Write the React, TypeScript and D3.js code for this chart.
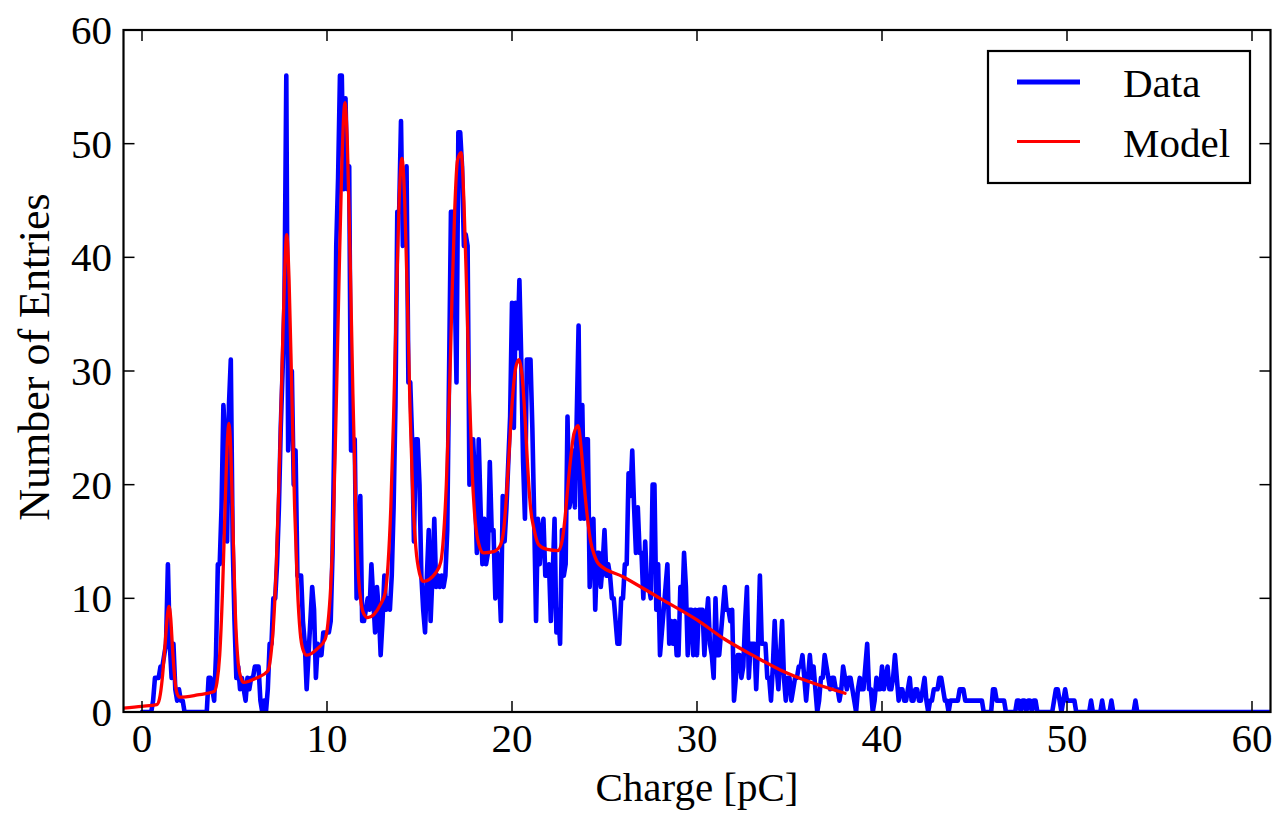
import React from 'react';
import * as d3 from 'd3';

// Histogram counts, one bin every 0.1 pC starting at 0 pC (rows of 1 pC)
const binStart = 0;
const binWidth = 0.1;
const counts: number[] = [
  0, 0, 0, 0, 0, 0, 1, 3, 3, 3,
  4, 4, 5, 6, 13, 6, 3, 6, 2, 1,
  2, 1, 1, 0, 0, 0, 0, 0, 0, 0,
  0, 0, 0, 0, 0, 0, 3, 3, 2, 1,
  5, 13, 13, 18, 27, 24, 15, 27, 31, 15,
  8, 3, 4, 2, 3, 2, 1, 3, 2, 3,
  3, 4, 4, 4, 1, 0, 1, 0, 2, 6,
  6, 10, 10, 13, 18, 25, 30, 36, 56, 23,
  30, 30, 20, 23, 12, 12, 12, 8, 6, 2,
  5, 8, 11, 9, 3, 6, 5, 5, 7, 7,
  7, 7, 8, 14, 25, 41, 47, 56, 56, 46,
  54, 46, 48, 23, 23, 24, 10, 12, 19, 8,
  8, 9, 10, 9, 13, 10, 7, 11, 9, 5,
  8, 12, 9, 10, 9, 12, 18, 27, 44, 44,
  52, 41, 44, 48, 29, 29, 24, 15, 24, 24,
  20, 12, 9, 7, 12, 16, 8, 12, 17, 11,
  12, 11, 12, 11, 12, 16, 30, 44, 44, 38,
  29, 51, 51, 48, 41, 42, 41, 20, 24, 24,
  20, 14, 24, 18, 13, 17, 13, 14, 22, 16,
  16, 10, 14, 12, 8, 19, 15, 18, 22, 26,
  36, 25, 36, 32, 38, 31, 22, 17, 31, 31,
  31, 25, 17, 8, 17, 13, 16, 17, 12, 12,
  13, 8, 12, 17, 7, 9, 6, 16, 12, 13,
  26, 18, 19, 23, 18, 26, 34, 17, 27, 17,
  24, 24, 11, 15, 17, 9, 14, 14, 11, 13,
  16, 12, 13, 12, 10, 10, 8, 6, 6, 10,
  10, 13, 13, 21, 19, 23, 18, 14, 18, 14,
  14, 10, 15, 11, 11, 10, 20, 20, 9, 13,
  5, 7, 9, 11, 13, 6, 8, 6, 8, 5,
  5, 11, 9, 14, 11, 5, 9, 9, 5, 9,
  5, 9, 9, 9, 5, 8, 10, 6, 5, 3,
  10, 5, 5, 7, 9, 11, 9, 9, 8, 9,
  1, 3, 5, 5, 3, 4, 8, 11, 3, 6,
  6, 6, 2, 6, 12, 6, 6, 6, 3, 3,
  1, 4, 8, 4, 2, 5, 8, 3, 1, 3,
  3, 1, 2, 3, 3, 4, 4, 5, 3, 1,
  3, 5, 3, 4, 2, 0, 1, 3, 3, 5,
  4, 3, 2, 3, 3, 2, 2, 1, 2, 4,
  3, 2, 3, 3, 2, 1, 0, 2, 3, 2,
  2, 4, 6, 2, 2, 0, 1, 3, 2, 2,
  4, 2, 3, 4, 2, 2, 3, 5, 3, 1,
  2, 2, 1, 1, 2, 3, 1, 1, 2, 2,
  1, 1, 2, 3, 1, 0, 1, 1, 2, 2,
  2, 3, 3, 2, 1, 1, 0, 1, 1, 1,
  1, 1, 2, 2, 2, 1, 1, 1, 1, 1,
  1, 1, 1, 1, 1, 0, 0, 0, 0, 0,
  2, 2, 1, 1, 1, 1, 1, 0, 0, 0,
  0, 0, 0, 1, 1, 0, 1, 1, 0, 1,
  1, 0, 1, 1, 0, 0, 0, 0, 0, 0,
  0, 0, 0, 1, 2, 2, 1, 0, 1, 2,
  1, 1, 1, 1, 1, 0, 0, 0, 0, 0,
  0, 0, 0, 1, 0, 0, 0, 0, 0, 1,
  0, 0, 0, 0, 1, 0, 0, 0, 0, 0,
  0, 0, 0, 0, 0, 0, 0, 1, 0, 0,
  0, 0, 0, 0, 0, 0, 0, 0, 0, 0,
  0, 0, 0, 0, 0, 0, 0, 0, 0, 0,
  0, 0, 0, 0, 0, 0, 0, 0, 0, 0,
  0, 0, 0, 0, 0, 0, 0, 0, 0, 0,
  0, 0, 0, 0, 0, 0, 0, 0, 0, 0,
  0, 0, 0, 0, 0, 0, 0, 0, 0, 0,
  0, 0, 0, 0, 0, 0, 0, 0, 0, 0,
  0,
];

// Fitted model curve (charge in pC, expected entries)
const modelCharge: number[] = [
  -1.0, 0.0, 0.8, 0.95, 1.1, 1.25, 1.38, 1.46, 1.55, 1.65, 1.78, 1.9, 2.05, 3.0, 3.9,
  4.05, 4.2, 4.35, 4.5, 4.62, 4.7, 4.8, 4.92, 5.05, 5.2, 5.35, 5.5, 6.2, 6.8,
  6.95, 7.1, 7.25, 7.4, 7.55, 7.7, 7.82, 7.95, 8.1, 8.25, 8.4, 8.55, 8.7, 8.9, 9.5, 9.9,
  10.05, 10.2, 10.35, 10.5, 10.65, 10.8, 10.97, 11.1, 11.25, 11.4, 11.55, 11.7, 11.85, 12.0, 12.2, 12.9,
  13.15, 13.3, 13.45, 13.6, 13.75, 13.9, 14.05, 14.2, 14.35, 14.5, 14.65, 14.8, 15.0, 15.2, 15.9,
  16.15, 16.3, 16.45, 16.6, 16.75, 16.9, 17.05, 17.25, 17.4, 17.55, 17.7, 17.85, 18.0, 18.2, 18.45, 19.0,
  19.35, 19.55, 19.7, 19.85, 20.0, 20.2, 20.38, 20.55, 20.7, 20.85, 21.0, 21.2, 21.45, 21.9, 22.5,
  22.7, 22.85, 23.0, 23.15, 23.35, 23.57, 23.75, 23.9, 24.05, 24.25, 24.45, 24.7,
  26.0, 28.0, 30.0, 31.5, 33.0, 34.5, 36.0, 38.0,
];
const modelCounts: number[] = [
  0.35, 0.5, 0.65, 1.2, 3.0, 6.0, 8.6, 9.3, 8.3, 5.6, 2.8, 1.6, 1.3, 1.5, 1.8,
  2.6, 5.0, 10.5, 18.5, 24, 25.4, 23, 16, 8.5, 4.3, 3.0, 2.6, 3.0, 3.6,
  4.8, 7.5, 12.5, 20, 29, 38, 42, 38, 28, 18, 11, 7, 5.5, 5.0, 5.6, 6.4,
  7.8, 11, 17, 27, 38, 48, 53.6, 50, 40, 28, 18, 12, 9.5, 8.6, 8.3, 9.5,
  10.5, 13, 18, 26, 36, 45, 48.7, 45, 36, 26, 18.5, 14.5, 12.2, 11.5, 12.3,
  13.2, 15.5, 20, 27, 36, 44, 48.5, 49.2, 45, 37, 28, 21, 17, 14.8, 14.0, 14.1,
  14.6, 16, 19, 23, 27, 30.3, 31, 29.5, 26, 21.5, 18, 16, 14.7, 14.3, 14.2,
  15, 16.8, 19.5, 22, 24.5, 25.2, 23, 20, 17.5, 15, 13.8, 13.0,
  11.9, 10.0, 8.1, 6.4, 5.0, 3.7, 2.7, 1.65,
];

const xTicks = [0, 10, 20, 30, 40, 50, 60];
const yTicks = [0, 10, 20, 30, 40, 50, 60];
const seriesNames = ['Data', 'Model'];
const xLabel = 'Charge [pC]';
const yLabel = 'Number of Entries';

export default function App() {
  const W = 1276;
  const H = 813;
  const left = 123.5, right = 1270.5, top = 30, bottom = 712;
  const font = '"Liberation Serif", "Times New Roman", serif';
  const fs = 41;
  const tick = 11;

  const x = d3.scaleLinear().domain([-1, 61]).range([left, right]);
  const y = d3.scaleLinear().domain([0, 60]).range([bottom, top]);

  const dataPts: [number, number][] = counts.map((c, i) => [binStart + i * binWidth, c]);
  const modelPts: [number, number][] = modelCharge.map((c, i) => [c, modelCounts[i]]);

  const dataPath = d3.line<[number, number]>().x(d => x(d[0])).y(d => y(d[1]))(dataPts) || '';
  const modelPath = d3.line<[number, number]>().x(d => x(d[0])).y(d => y(d[1])).curve(d3.curveMonotoneX)(modelPts) || '';

  const colors = ['#0000ff', '#ff0000'];
  const legendWidths = [5, 3.2];

  return (
    <svg width={W} height={H} style={{ position: 'absolute', left: 0, top: 0, background: '#fff' }}
      fontFamily={font}>
      <rect x={0} y={0} width={W} height={H} fill="#fff" />
      <defs>
        <clipPath id="plotclip">
          <rect x={left} y={top} width={right - left} height={bottom - top} />
        </clipPath>
      </defs>
      <g clipPath="url(#plotclip)">
        <path d={dataPath} fill="none" stroke={colors[0]} strokeWidth={4.6} strokeLinejoin="round" strokeLinecap="round" />
        <path d={modelPath} fill="none" stroke={colors[1]} strokeWidth={3.3} strokeLinejoin="round" strokeLinecap="round" />
      </g>
      {xTicks.map(t => (
        <g key={'x' + t}>
          <line x1={x(t)} x2={x(t)} y1={bottom} y2={bottom - tick} stroke="#000" strokeWidth={1.5} />
          <line x1={x(t)} x2={x(t)} y1={top} y2={top + tick} stroke="#000" strokeWidth={1.5} />
          <text x={x(t)} y={752} textAnchor="middle" fontSize={fs} fill="#000">{t}</text>
        </g>
      ))}
      {yTicks.map(t => (
        <g key={'y' + t}>
          <line x1={left} x2={left + tick} y1={y(t)} y2={y(t)} stroke="#000" strokeWidth={1.5} />
          <line x1={right} x2={right - tick} y1={y(t)} y2={y(t)} stroke="#000" strokeWidth={1.5} />
          <text x={112} y={y(t) + 14} textAnchor="end" fontSize={fs} fill="#000">{t}</text>
        </g>
      ))}
      <rect x={left} y={top} width={right - left} height={bottom - top} fill="none" stroke="#000" strokeWidth={2.2} />
      <text x={(left + right) / 2} y={801} textAnchor="middle" fontSize={fs} fill="#000">{xLabel}</text>
      <text transform={`translate(49, 357) rotate(-90)`} textAnchor="middle" fontSize={44} fill="#000">{yLabel}</text>
      <rect x={988} y={51} width={262} height={132} fill="#fff" stroke="#000" strokeWidth={2.2} />
      {seriesNames.map((n, i) => (
        <g key={n}>
          <line x1={1017} x2={1080} y1={82 + i * 59.5} y2={82 + i * 59.5} stroke={colors[i]} strokeWidth={legendWidths[i]} />
          <text x={1123} y={96.5 + i * 60} fontSize={fs} fill="#000">{n}</text>
        </g>
      ))}
    </svg>
  );
}
